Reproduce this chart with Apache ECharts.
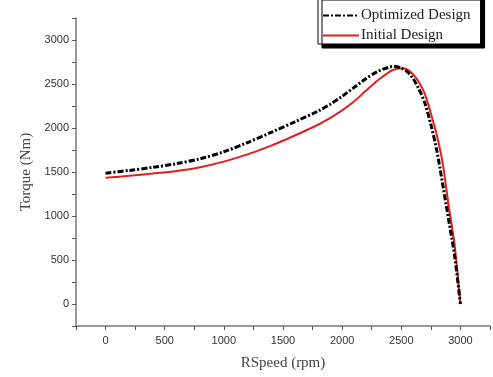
<!DOCTYPE html>
<html>
<head>
<meta charset="utf-8">
<script src="https://cdn.jsdelivr.net/npm/echarts@6/dist/echarts.min.js"></script>
<style>html,body{margin:0;padding:0;background:#fff}#c{width:493px;height:377px}</style>
</head>
<body>
<div id="c"></div>
<script>
const optRpm = [0,200,400,600,800,1000,1200,1400,1600,1800,1900,2000,2100,2200,2300,2400,2450,2500,2550,2600,2650,2700,2750,2800,2850,2900,2950,3000];
const optTorque = [1486,1518,1553,1595,1650,1730,1835,1950,2070,2195,2270,2360,2460,2560,2642,2692,2700,2680,2640,2560,2440,2280,2040,1745,1360,960,555,0];
const initRpm = [0,200,400,600,800,1000,1200,1400,1600,1800,1900,2000,2100,2200,2300,2400,2450,2500,2550,2600,2650,2700,2750,2800,2850,2900,2950,3000];
const initTorque = [1434,1457,1483,1512,1555,1618,1700,1800,1915,2040,2115,2200,2300,2422,2540,2638,2667,2678,2665,2610,2520,2385,2165,1920,1600,1120,680,0];
const tickLabels = [0,500,1000,1500,2000,2500,3000];

const chart = echarts.init(document.getElementById('c'), null, {renderer:'canvas'});
const lblFmt = v => tickLabels.indexOf(v) >= 0 ? String(v) : '';
function axis(extra) {
  return Object.assign({
    type: 'value',
    min: -250, max: 3250, interval: 250,
    nameLocation: 'middle',
    nameTextStyle: {fontFamily: 'Liberation Serif', fontSize: 15, color: '#444'},
    axisLine: {show: true, onZero: false, lineStyle: {color: '#777', width: 1.5}},
    axisTick: {show: true, inside: false, length: 4, lineStyle: {color: '#555', width: 1}},
    splitLine: {show: false}
  }, extra);
}
chart.setOption({
  animation: false,
  backgroundColor: '#fff',
  grid: {left: 76, right: 0, top: 18, bottom: 51, containLabel: false},
  legend: {
    orient: 'vertical', left: 318, top: -4,
    padding: [12, 10, 1, 4],
    itemWidth: 36, itemHeight: 12, itemGap: 5,
    backgroundColor: '#fff', borderColor: '#000', borderWidth: 1,
    shadowColor: '#000', shadowBlur: 0, shadowOffsetX: 4, shadowOffsetY: 4,
    itemStyle: {opacity: 0},
    textStyle: {fontFamily: 'Liberation Serif', fontSize: 15, color: '#222', padding: [0,0,0,-3]},
    data: ['Optimized Design', 'Initial Design']
  },
  xAxis: axis({name: 'RSpeed (rpm)', nameGap: 30,
    axisLabel: {formatter: lblFmt, fontFamily: 'Liberation Sans', fontSize: 11, color: '#333', margin: 9}}),
  yAxis: axis({name: 'Torque (Nm)', nameGap: 40,
    axisLabel: {formatter: lblFmt, fontFamily: 'Liberation Sans', fontSize: 11, color: '#333', margin: 7}}),
  series: [
    {
      name: 'Optimized Design', type: 'line', symbol: 'none', smooth: 0.3,
      data: optRpm.map((r, i) => [r, optTorque[i]]),
      lineStyle: {color: '#000', width: 3, type: [6, 2, 2, 2]},
      itemStyle: {color: '#000'}, z: 3
    },
    {
      name: 'Initial Design', type: 'line', symbol: 'none', smooth: 0.3,
      data: initRpm.map((r, i) => [r, initTorque[i]]),
      lineStyle: {color: '#e01f1f', width: 2},
      itemStyle: {color: '#e01f1f'}, z: 2
    }
  ]
});
</script>
</body>
</html>
